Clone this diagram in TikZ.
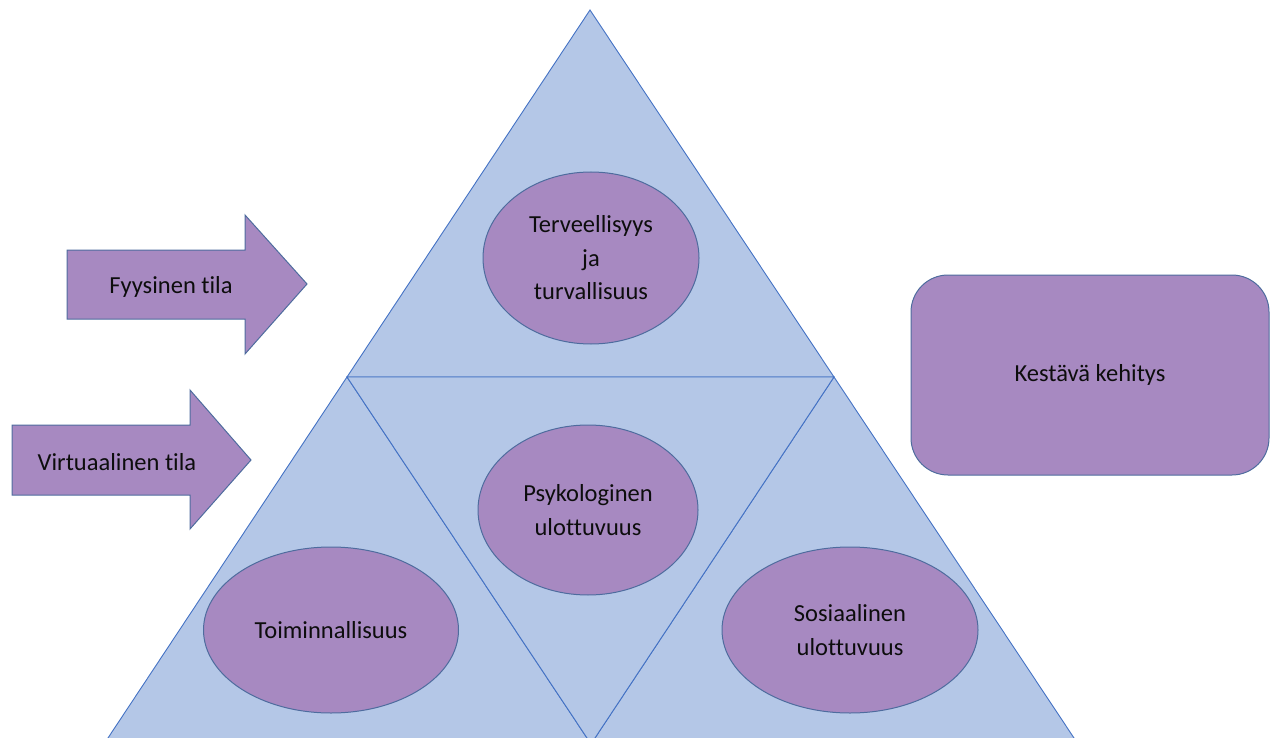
\documentclass[tikz,border=0pt]{standalone}
\usepackage{fontspec}
\setmainfont{Carlito}[Ligatures=NoCommon]
\usetikzlibrary{shapes.geometric,calc}
\definecolor{triFill}{HTML}{B4C7E7}
\definecolor{triLine}{HTML}{4472C4}
\definecolor{lilac}{HTML}{A789C1}
\definecolor{lilacLine}{HTML}{4E6C9E}
\definecolor{ink}{HTML}{0D0D0D}
\newcommand{\labelfont}{\fontsize{24.5}{33.5}\selectfont}
\tikzset{
  facet/.style={fill=triFill, draw=triLine, line width=0.9pt, line join=miter},
  bubble/.style={ellipse, fill=lilac, draw=lilacLine, line width=1pt, inner sep=0pt,
                 align=center, text=ink, font=\labelfont},
  pointer/.style={fill=lilac, draw=lilacLine, line width=1pt, line join=miter},
  label/.style={text=ink, font=\labelfont, inner sep=0pt},
  goalbox/.style={rectangle, rounded corners=37pt, fill=lilac, draw=lilacLine, line width=1pt,
                  align=center, text=ink, font=\labelfont}
}
\begin{document}
\begin{tikzpicture}[x=1pt,y=-1pt]
  \useasboundingbox (0,0) rectangle (1277,738);
  % pyramid corners (base lies just below the lower edge)
  \coordinate (apex) at (590,10);
  \coordinate (bl) at (104,744);
  \coordinate (br) at (1078,744);
  \coordinate (ml) at ($(apex)!0.5!(bl)$);
  \coordinate (mr) at ($(apex)!0.5!(br)$);
  \coordinate (mb) at ($(bl)!0.5!(br)$);
  \begin{scope}
    \clip (0,0) rectangle (1277,738);
    \path[facet] (apex) -- (mr) -- (ml) -- cycle;
    \path[facet] (ml) -- (mb) -- (bl) -- cycle;
    \path[facet] (mr) -- (br) -- (mb) -- cycle;
    \path[facet] (ml) -- (mr) -- (mb) -- cycle;
  \end{scope}

  % dimensions inside the pyramid
  \node[bubble, minimum width=216pt, minimum height=172pt] (health) at (591,258)
    {Terveellisyys\\ja\\turvallisuus};
  \node[bubble, minimum width=220pt, minimum height=170pt] (psych) at (588,510)
    {Psykologinen\\ulottuvuus};
  \node[bubble, minimum width=255pt, minimum height=166pt] (func) at (331,630)
    {Toiminnallisuus};
  \node[bubble, minimum width=256pt, minimum height=166pt] (social) at (850,630)
    {Sosiaalinen\\ulottuvuus};

  % spaces pointing into the pyramid
  \path[pointer] (67,250) -- (245,250) -- (245,215) -- (307,284) -- (245,354)
    -- (245,319) -- (67,319) -- cycle;
  \node[label] (phys) at (171,287) {Fyysinen tila};
  \path[pointer] (12,425) -- (190,425) -- (190,390) -- (251,460) -- (190,529)
    -- (190,495) -- (12,495) -- cycle;
  \node[label] (virt) at (117,462) {Virtuaalinen tila};

  % overall goal
  \node[goalbox, minimum width=358pt, minimum height=200pt] (goal) at (1090,375)
    {Kestävä kehitys};
\end{tikzpicture}
\end{document}
